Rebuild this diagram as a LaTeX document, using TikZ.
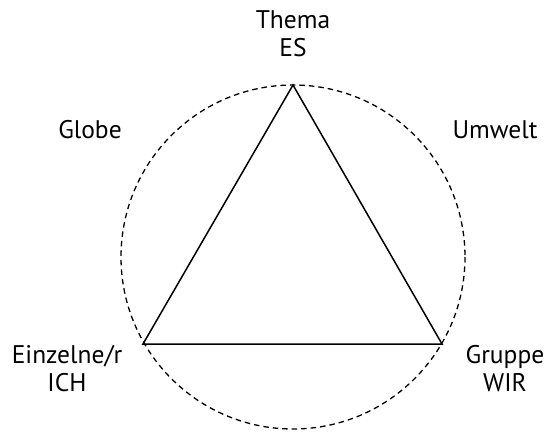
\documentclass[tikz,border=0pt]{standalone}
\usepackage{fontspec}
\setmainfont{PT Sans}
\begin{document}
\begin{tikzpicture}[x=1pt,y=-1pt,
  lbl/.style={font=\fontsize{25.5}{28}\selectfont, align=center, inner sep=0pt},
  tri/.style={line width=1.5pt, line join=miter},
  ring/.style={line width=1.3pt, dash pattern=on 5.5pt off 4pt}]
\useasboundingbox (0,0) rectangle (550,436);
\coordinate (c) at (293,257);
\coordinate (t) at (293,85);
\coordinate (l) at (143,344);
\coordinate (r) at (442,344);
\draw[ring] (c) circle (172);
\draw[tri] (t) -- (l) -- (r) -- cycle;
\node[lbl] (thema) at (293,34) {Thema\\ES};
\node[lbl] (globe) at (90,130) {Globe};
\node[lbl] (umwelt) at (495,130) {Umwelt};
\node[lbl] (ich) at (67,369) {Einzelne/r\\ICH};
\node[lbl] (wir) at (505,369) {Gruppe\\WIR};
\end{tikzpicture}
\end{document}
